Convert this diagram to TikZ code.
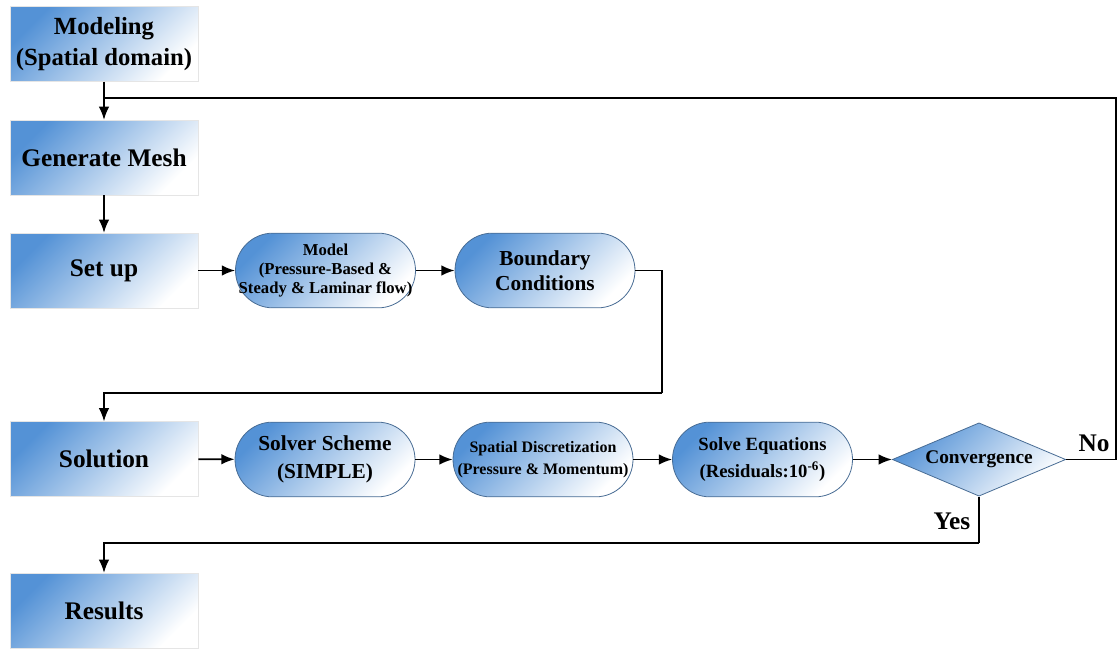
\documentclass[tikz,border=0pt]{standalone}
\usepackage{fontspec}
\setmainfont{Liberation Serif}
\usetikzlibrary{arrows.meta,shapes.geometric}
\definecolor{boxblue}{RGB}{84,146,214}
\definecolor{edgeblue}{RGB}{72,108,148}
\tikzset{
  stepbox/.style={rectangle, draw=black!10, top color=boxblue, bottom color=white, shading angle=45,
    minimum width=141pt, minimum height=56pt, inner sep=1pt, align=center,
    font=\fontsize{19}{23}\selectfont\bfseries},
  subbox/.style={rectangle, rounded corners=28pt, draw=edgeblue, line width=0.6pt, top color=boxblue, bottom color=white, shading angle=45,
    minimum width=135pt, minimum height=56pt, inner sep=0pt, align=center},
  testbox/.style={diamond, draw=edgeblue, line width=0.6pt, top color=boxblue, bottom color=white, shading angle=45,
    minimum width=130pt, minimum height=55pt, aspect=2.4, inner sep=0pt, align=center,
    font=\fontsize{14.5}{17}\selectfont\bfseries},
  flow/.style={line width=1.3pt, -{Latex[length=10pt,width=8pt]}},
  wire/.style={line width=1.3pt},
  tag/.style={inner sep=0.75pt, font=\fontsize{19}{22}\selectfont\bfseries}
}
\begin{document}
\begin{tikzpicture}[x=0.75pt,y=0.75pt,yscale=-1,xscale=1]
        \useasboundingbox (0,0) rectangle (1118,649);
        % left column
        \node [stepbox, font=\fontsize{18.5}{23}\selectfont\bfseries] (modeling) at (104,44) {Modeling\\(Spatial domain)};
        \node [stepbox] (mesh) at (104,157.5) {Generate Mesh};
        \node [stepbox] (setup) at (104,270.5) {Set up};
        \node [stepbox] (solution) at (104,459) {Solution};
        \node [stepbox] (results) at (104,610.5) {Results};

        % set up row
        \node [subbox, font=\fontsize{12.5}{14.6}\selectfont\bfseries] (physics) at (325.5,270.5) {Model\\(Pressure-Based \&\\Steady \& Laminar flow)};
        \node [subbox, font=\fontsize{16}{19}\selectfont\bfseries] (bcond) at (545,270.5) {Boundary\\Conditions};

        % solution row
        \node [subbox, font=\fontsize{16}{21}\selectfont\bfseries] (scheme) at (325,459.5) {Solver Scheme\\(SIMPLE)};
        \node [subbox, font=\fontsize{12}{16}\selectfont\bfseries] (discret) at (543,459.5) {Spatial Discretization\\(Pressure \& Momentum)};
        \node [subbox, font=\fontsize{14}{20}\selectfont\bfseries] (solve) at (762.5,459.5) {Solve Equations\\(Residuals:10\textsuperscript{-6})};
        \node [testbox] (conv) at (979,459.5) {Convergence};

        % corner points of the connectors
        \coordinate (loopin) at (104,98);
        \coordinate (loopcorner) at (1116,98);
        \coordinate (bcturn) at (662,393);
        \coordinate (yesturn) at (979,543);

        % connectors
        \draw [flow] (modeling) -- (mesh);
        \draw [flow] (mesh) -- (setup);
        \draw [flow] (setup) -- (physics);
        \draw [flow] (physics) -- (bcond);
        \draw [wire] (bcond.east) -| (bcturn);
        \draw [flow] (bcturn) -| (solution.north);
        \draw [flow] (solution) -- (scheme);
        \draw [flow] (scheme) -- (discret);
        \draw [flow] (discret) -- (solve);
        \draw [flow] (solve) -- (conv);
        \draw [wire] (conv.east) -| (loopcorner) -- (loopin);
        \draw [wire] (conv.south) -- (yesturn);
        \draw [flow] (yesturn) -| (results.north);

        % Text Node
        \node [tag] (no) at (1094,443) {No};
        \node [tag] (yes) at (952,521) {Yes};
\end{tikzpicture}
\end{document}
